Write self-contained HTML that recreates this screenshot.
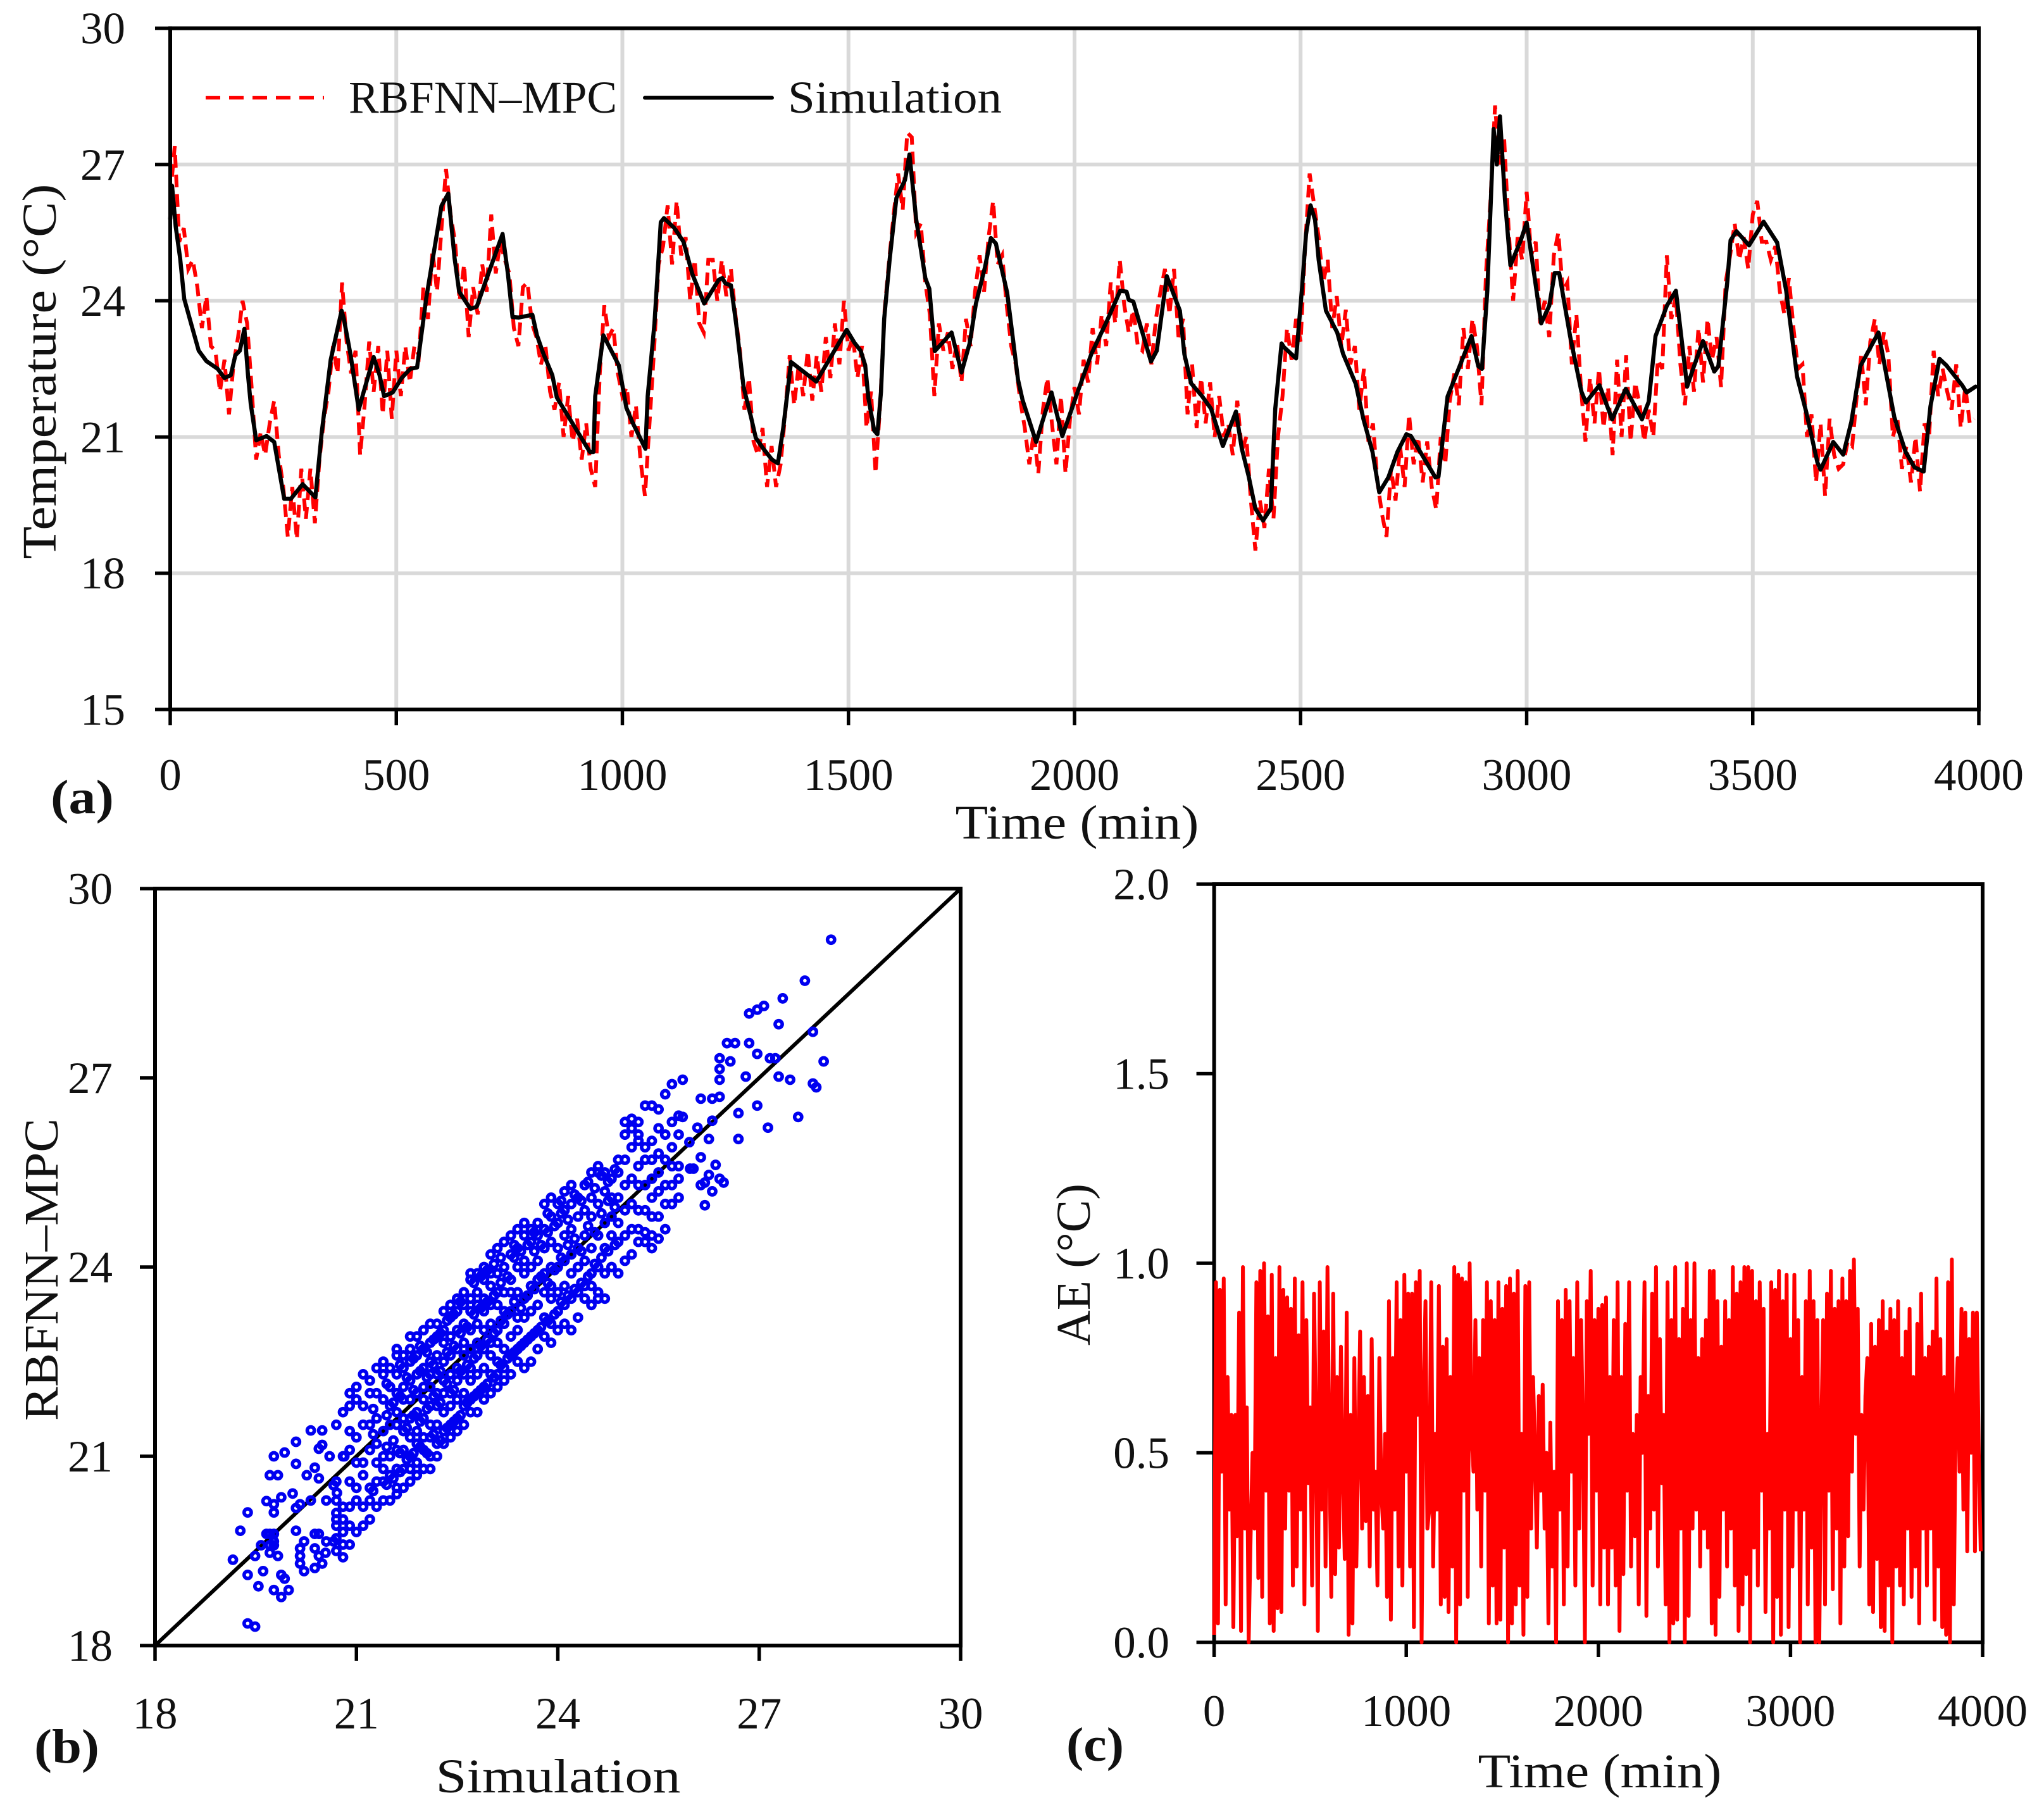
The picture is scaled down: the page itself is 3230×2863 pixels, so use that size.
<!DOCTYPE html>
<html lang="en">
<head>
<meta charset="utf-8">
<title>RBFNN-MPC temperature comparison</title>
<style>
html,body{margin:0;padding:0;background:#fff}
svg{display:block}
text{font-family:"Liberation Serif",serif;fill:#111}
</style>
</head>
<body>
<svg id="fig" xmlns="http://www.w3.org/2000/svg" width="3230" height="2863" viewBox="0 0 3230 2863">
<rect width="3230" height="2863" fill="#fff"/>
<g id="panelA"></g>
<g id="panelB"></g>
<g id="panelC"></g>
<text x="551" y="178" font-size="72" textLength="424" lengthAdjust="spacingAndGlyphs">RBFNN–MPC</text>
<text x="1245" y="178" font-size="72" textLength="338" lengthAdjust="spacingAndGlyphs">Simulation</text>
<line x1="325" y1="154.5" x2="512" y2="154.5" stroke="#f00" stroke-width="5.5" stroke-dasharray="23 14"/>
<line x1="1019" y1="154.5" x2="1220" y2="154.5" stroke="#000" stroke-width="6" stroke-linecap="round"/>
<text transform="translate(88,587) rotate(-90)" text-anchor="middle" font-size="76" textLength="593" lengthAdjust="spacingAndGlyphs">Temperature (°C)</text>
<text x="1702" y="1325" text-anchor="middle" font-size="76" textLength="385" lengthAdjust="spacingAndGlyphs">Time (min)</text>
<text x="80" y="1285" font-size="76" font-weight="bold" textLength="100" lengthAdjust="spacingAndGlyphs">(a)</text>
<text transform="translate(91,2006) rotate(-90)" text-anchor="middle" font-size="76" textLength="478" lengthAdjust="spacingAndGlyphs">RBFNN–MPC</text>
<text x="882" y="2832" text-anchor="middle" font-size="76" textLength="387" lengthAdjust="spacingAndGlyphs">Simulation</text>
<text x="54" y="2785" font-size="76" font-weight="bold" textLength="103" lengthAdjust="spacingAndGlyphs">(b)</text>
<text transform="translate(1722,1998) rotate(-90)" text-anchor="middle" font-size="76" textLength="256" lengthAdjust="spacingAndGlyphs">AE (°C)</text>
<text x="2528" y="2824" text-anchor="middle" font-size="76" textLength="385" lengthAdjust="spacingAndGlyphs">Time (min)</text>
<text x="1685" y="2782" font-size="76" font-weight="bold" textLength="91" lengthAdjust="spacingAndGlyphs">(c)</text>
</svg>
<script>
const tempTickValues=[15,18,21,24,27,30];
const timeTicksA=[0,500,1000,1500,2000,2500,3000,3500,4000];
const scatterTicks=[18,21,24,27,30];
const aeTicks=["0.0","0.5","1.0","1.5","2.0"];
const timeTicksC=[0,1000,2000,3000,4000];

const simTimes=[0,4,12,22,31,46,63,80,105,120,134,144,154,164,172,178,190,213,230,252,267,293,321,335,355,379,384,399,417,428,450,463,473,492,512,531,546,566,600,615,629,639,664,678,703,735,747,757,771,801,811,825,845,855,928,936,940,958,992,1009,1022,1051,1056,1071,1085,1092,1115,1135,1155,1181,1213,1221,1228,1240,1252,1268,1284,1295,1312,1331,1344,1356,1373,1429,1496,1513,1527,1537,1544,1557,1564,1572,1579,1591,1606,1625,1635,1650,1670,1679,1691,1728,1750,1768,1782,1802,1815,1826,1851,1861,1875,1885,1915,1934,1949,1973,2008,2037,2071,2101,2115,2120,2130,2169,2182,2204,2233,2243,2258,2282,2302,2328,2357,2370,2385,2400,2417,2434,2444,2458,2463,2490,2503,2512,2522,2532,2540,2556,2581,2594,2622,2639,2659,2674,2694,2714,2734,2744,2798,2805,2825,2847,2878,2893,2901,2913,2927,2934,2941,2952,2964,2987,3000,3017,3032,3050,3062,3072,3096,3121,3131,3161,3189,3219,3255,3270,3285,3310,3330,3355,3370,3390,3415,3424,3444,3451,3464,3492,3524,3554,3574,3598,3618,3643,3650,3678,3700,3718,3738,3778,3813,3838,3858,3878,3893,3913,3928,3963,3973,3993];
const simTemps=[25.8,26.53,25.64,24.93,24.04,23.5,22.9,22.67,22.5,22.3,22.36,22.8,22.9,23.38,22.36,21.73,20.93,21.02,20.89,19.64,19.64,19.96,19.67,21.1,22.7,23.78,23.6,22.8,21.6,22.0,22.76,22.36,21.9,21.98,22.3,22.5,22.53,24.04,26.09,26.36,24.93,24.2,23.82,23.87,24.58,25.47,24.58,23.64,23.63,23.69,23.24,22.84,22.36,21.87,20.67,20.67,21.9,23.24,22.58,21.64,21.33,20.74,21.9,23.5,25.73,25.82,25.6,25.3,24.58,23.94,24.46,24.5,24.38,24.34,23.46,22.1,21.46,20.98,20.74,20.5,20.42,21.22,22.65,22.22,23.36,23.08,22.9,22.58,21.86,21.14,21.06,22.0,23.6,24.9,26.26,26.66,27.22,25.78,24.5,24.26,22.89,23.3,22.42,23.06,23.94,24.74,25.38,25.26,24.18,23.38,22.26,21.82,20.89,21.5,21.98,21.02,22.02,22.82,23.54,24.22,24.2,24.02,23.98,22.66,22.9,24.54,23.78,22.82,22.18,21.9,21.62,20.8,21.56,20.74,20.14,19.42,19.16,19.42,21.62,23.06,22.98,22.73,24.26,25.46,26.1,25.78,24.9,23.78,23.3,22.83,22.17,21.39,20.67,19.78,20.11,20.67,21.06,21.02,20.11,20.13,21.89,22.44,23.22,22.56,22.5,24.22,27.78,27.0,28.06,26.22,24.78,25.33,25.72,24.56,23.5,23.89,24.61,24.61,23.22,22.0,21.76,22.14,21.39,22.06,21.39,21.78,23.22,23.89,24.22,22.11,22.56,23.11,22.44,22.56,24.44,25.33,25.53,25.22,25.74,25.28,24.22,22.33,21.56,20.44,20.28,20.89,20.61,21.33,22.56,23.3,21.44,20.67,20.33,20.24,21.67,22.72,22.58,22.14,21.98,22.11];

const rbfSampleStepMin=10;
const rbfTemps=[
26.3,27.4,25.3,25.6,24.7,24.9,24.3,23.4,24.1,23.0,
22.9,22.0,22.7,21.5,22.6,23.2,24.0,23.5,22.1,20.5,
21.1,20.6,21.3,21.8,20.6,19.9,18.8,19.9,18.75,20.3,
19.2,20.3,19.1,20.5,21.4,22.0,23.0,22.4,24.4,23.1,
22.4,22.9,20.6,21.7,23.1,22.0,23.0,21.5,22.9,21.4,
22.9,21.9,23.0,22.2,23.0,22.8,24.3,23.6,25.1,24.2,
25.6,26.9,25.9,25.3,24.0,24.8,23.2,24.3,23.7,24.8,
24.2,25.9,24.6,25.3,24.9,24.6,23.4,23.0,24.3,24.4,
23.5,23.2,22.6,23.0,22.0,21.6,22.2,21.0,21.9,20.9,
21.4,20.5,21.3,20.3,19.9,22.4,23.9,23.2,23.4,22.4,
21.9,22.1,21.0,21.7,20.5,19.7,21.3,22.9,24.8,25.2,
26.1,24.8,26.2,25.0,25.4,24.0,24.9,23.5,23.3,24.9,
24.9,24.0,24.9,24.1,24.7,23.7,22.9,21.6,22.3,20.9,
20.6,21.2,19.9,20.8,19.9,20.4,21.5,22.8,21.7,22.6,
21.9,22.9,21.8,22.8,22.0,23.2,22.3,23.5,22.6,24.0,
22.9,23.2,22.3,23.0,21.2,22.0,20.2,21.7,23.8,24.9,
25.9,26.8,26.0,27.7,27.6,25.5,25.7,24.4,23.7,21.9,
23.5,22.9,23.3,22.5,23.1,22.2,23.6,23.0,24.2,25.0,
24.2,25.4,26.2,24.8,25.0,23.9,23.0,22.6,21.8,21.2,
20.4,21.1,20.2,21.6,22.3,21.3,20.4,21.9,20.2,21.4,
22.1,21.5,22.7,22.2,23.4,22.6,23.7,23.0,24.4,23.5,
24.9,23.9,23.3,23.8,23.0,22.9,23.5,22.6,23.6,24.2,
24.7,23.7,24.7,23.2,23.6,21.5,22.6,21.2,22.3,21.3,
22.2,21.0,21.9,21.0,21.3,20.6,21.8,20.7,21.0,19.6,
18.5,19.6,19.0,20.3,19.2,21.0,21.9,23.4,22.7,23.6,
23.1,25.2,26.8,26.1,25.4,24.4,24.9,23.4,24.1,23.0,
23.8,22.6,23.0,21.6,22.5,20.9,21.3,20.0,19.3,18.8,
20.3,19.6,20.8,19.9,21.5,20.4,21.0,20.0,20.9,19.9,
19.4,21.0,20.4,21.8,22.4,21.7,23.4,22.5,23.6,23.0,
21.7,24.6,26.2,28.3,27.0,27.6,25.6,24.0,25.4,24.9,
26.4,25.0,25.3,23.5,24.0,23.2,25.0,25.5,24.2,24.4,
22.6,23.7,22.1,20.9,22.3,21.3,22.5,21.2,22.1,20.6,
22.7,21.0,22.8,20.9,22.2,21.7,20.9,21.6,21.0,22.7,
22.5,25.0,23.6,24.1,22.6,21.7,23.0,22.0,23.4,22.2,
23.6,22.7,23.2,22.1,24.4,25.0,25.7,24.9,25.4,24.7,
25.9,26.2,25.3,25.3,24.9,25.2,24.2,23.7,24.5,23.4,
22.5,22.6,21.0,21.5,20.0,21.3,19.7,21.4,20.6,20.3,
20.4,20.9,20.8,21.9,22.8,21.7,23.1,23.6,22.6,23.3,
22.8,21.0,21.4,20.3,20.8,20.0,21.0,19.8,21.3,21.0,
22.9,21.9,22.5,22.0,21.6,22.6,21.2,22.1,21.3,21.4];

const scatterSimColumns=[19.38,19.49,19.16,19.27,19.38,19.38,19.49,19.54,19.61,19.58,19.77,19.88,19.99,19.88,19.93,19.83,19.71,19.66,19.71,19.77,19.77,19.71,19.77,19.66,19.77,19.77,19.88,20.05,19.77,19.93,20.1,19.71,19.83,20.1,20.26,20.38,20.44,20.44,20.49,20.32,20.49,20.1,20.16,20.1,20.22,20.16,20.16,20.16,20.22,20.38,20.38,20.44,20.54,20.49,20.38,20.44,20.55,20.66,20.32,20.55,20.66,20.71,20.6,20.82,
20.7,20.8,20.9,21.0,21.1,21.2,21.3,21.4,21.5,21.6,21.7,21.8,21.9,22.0,22.1,22.2,22.3,22.4,22.5,22.6,22.7,22.8,22.9,23.0,23.1,23.2,23.3,23.4,23.5,23.6,23.7,23.8,23.9,24.0,24.1,24.2,24.3,24.4,24.5,24.6,24.7,24.8,24.9,25.0,25.1,25.2,25.3,25.4,25.5,25.6,25.7,25.8,
25.86,25.96,25.97,26.02,26.08,26.13,26.13,26.19,26.19,26.25,26.25,26.3,26.3,26.3,26.35,26.41,26.41,26.41,26.41,26.47,26.52,26.57,26.64,26.69,26.69,26.8,26.85,26.85,26.97,26.97,26.97,27.07,27.13,27.16,27.24,27.29,27.29,27.35,27.46,27.58,27.68,27.8,27.8,27.85,27.96,28.07,
21.25,21.45,21.55,21.65,21.75,21.85,21.95,22.05,22.15,22.25,22.35,22.45,22.55,22.65,22.75,22.85,22.95,23.05,23.15,23.25,23.35,23.45,23.55,23.65,23.75,23.85,23.95,24.05,24.15,24.25,24.35,24.45,24.55,24.65,24.75,24.85];
const scatterRbfByColumn=[[18.35],[18.30],[19.36],[19.82],[20.11],[19.12],[19.42],[18.94],[19.18],[19.59],[18.88],[18.77],[18.88],[19.12],[19.06],[19.42],[19.47],[19.77],[19.77],[19.77],[19.65],[19.59],[19.59],[20.29],[20.24],[20.11],[20.35],[20.41],[21.0],[21.06],[21.23],[20.7],[20.7],[20.88],[20.7],[20.82],[20.65],[21.12],[21.18],[21.41],[21.41],[20.18],[20.24],[19.82],[19.65],[19.54],[19.42],[19.3],[19.18],[19.23],[19.54],[19.42],[19.47],[19.3],[19.77],[19.77],[19.65],[19.65],[20.3],[20.3],[20.54],[20.42],[21.0],[21.0],
[19.5,19.7,19.9,20.0,20.1,20.3,20.6,21.5],
[19.4,19.6,19.8,20.0,20.2,21.0,21.7],
[19.6,19.9,20.2,20.6,21.1,21.4,21.8,22.0],
[19.8,20.3,20.5,20.9,21.3,21.9,22.1],
[19.9,20.2,20.7,20.9,21.5,21.8,22.3],
[20.0,20.3,20.5,21.1,21.5,22.0,22.2],
[20.2,20.6,20.9,21.2,21.6,22.0,22.4],
[20.3,20.6,20.8,21.0,21.4,21.9,22.3,22.5],
[20.3,20.7,21.0,21.5,21.8,22.1,22.4],
[20.4,20.5,20.8,21.1,21.5,21.7,22.0,22.3,22.6,22.7],
[20.5,20.8,21.1,21.4,21.6,21.9,22.1,22.4,22.6],
[20.6,20.8,21.0,21.3,21.6,21.9,22.2,22.5,22.7,22.9],
[20.7,20.9,21.2,21.4,21.7,22.0,22.3,22.6,22.9],
[20.8,21.1,21.3,21.6,21.9,22.1,22.4,22.7,23.0],
[20.8,21.0,21.3,21.5,21.8,22.1,22.3,22.5,22.8,23.1],
[21.0,21.2,21.5,21.8,22.0,22.3,22.6,22.9,23.1],
[21.2,21.4,21.7,22.0,22.2,22.5,22.8,23.0,23.3],
[21.3,21.5,21.8,22.0,22.3,22.6,22.9,23.2,23.4],
[21.4,21.6,21.9,22.2,22.4,22.7,23.0,23.3,23.5],
[21.5,21.8,22.0,22.3,22.6,22.8,23.1,23.4,23.6],
[21.7,21.9,22.2,22.4,22.7,23.0,23.3,23.5,23.8,23.9],
[21.7,22.0,22.3,22.6,22.8,23.1,23.4,23.6,23.9],
[21.9,22.1,22.4,22.7,23.0,23.3,23.5,23.8,24.0],
[22.0,22.3,22.6,22.8,23.1,23.4,23.7,23.9,24.2],
[22.1,22.3,22.5,22.8,23.0,23.4,23.6,23.9,24.3],
[22.2,22.4,22.7,23.1,23.3,23.6,24.0,24.4],
[22.3,22.6,22.9,23.3,23.6,23.8,24.2,24.5],
[22.5,22.7,23.0,23.2,23.6,24.0,24.3,24.6],
[22.4,22.8,23.2,23.5,23.9,24.1,24.5,24.7],
[22.5,22.9,23.3,23.7,24.0,24.4,24.6],
[22.7,23.0,23.4,23.8,24.1,24.5,24.7],
[22.9,23.2,23.6,23.9,24.3,24.6,25.0],
[22.8,23.1,23.5,23.7,24.0,24.4,24.8,25.1],
[23.0,23.3,23.6,24.0,24.3,24.7,25.0],
[23.1,23.4,23.7,24.1,24.5,24.9,25.2],
[23.0,23.5,23.9,24.2,24.6,25.0,25.3],
[23.2,23.6,24.0,24.3,24.8,25.1],
[23.5,23.7,24.1,24.5,24.9,25.3],
[23.4,23.7,23.9,24.3,24.8,25.1,25.5],
[23.5,23.6,24.0,24.5,25.0,25.5,25.6],
[23.5,23.9,24.3,24.7,25.2,25.5],
[24.0,24.5,24.8,25.1,25.4],
[23.9,24.4,24.7,25.1,25.5,25.7],
[24.1,24.5,24.9,25.3,25.7,26.1,26.3],
[24.2,24.6,25.0,25.4,25.9,26.2,26.35],
[24.4,24.6,24.9,25.3,25.6,26.0,26.1,26.3],
[24.4,24.55,24.9,25.3,25.7,25.9,26.56],
[24.3,24.5,24.8,25.1,25.4,25.7,26.0,26.56],
[24.45,24.8,25.2,25.5,25.8,26.2,26.5],
[24.6,25.0,25.3,25.7,26.1,26.74],
[25.0,25.3,25.6,25.9,26.3,26.9],
[25.1,25.4,25.6,26.4,26.1],
[26.97,26.38],[25.98],[25.56],[25.56],[26.21],[25.74,26.67],[25.3],[24.98],[25.34],[25.46],[26.03],[25.2],[26.32],[26.67],[25.62],[25.4,26.97],[27.14],[27.31],[26.7],[25.34],[27.55],[27.26],[27.55],[26.44],[26.03],[27.02],[28.02],[27.55],[28.08],[27.38],[26.56],[28.14],[26.21],[27.31],[27.31],[27.85],[27.02],[28.26],[26.97],[26.38],[28.54],[27.73],[26.91],[26.85],[27.26],[29.19],
[20.45,21.35,21.75],[20.55,21.15,21.65,22.15],[20.65,21.25,21.85],[20.75,21.05,21.95,22.45],[20.95,21.45,22.25],[21.05,21.65,22.05,22.55],[21.15,21.55,22.35,22.75],[21.05,21.75,22.25,22.65],[21.35,21.95,22.45,22.85],[21.25,21.85,22.35,22.95],[21.45,22.15,22.65,23.15],[21.55,22.05,22.75,23.25],[21.65,22.35,22.95,23.45],[21.85,22.45,23.05],[21.95,22.55,23.25,23.75],[22.05,22.75,23.35,23.85],[22.15,22.85,23.45,23.95],[22.25,22.95,23.55,24.05],[22.45,23.15,23.75,24.15],[22.55,23.25,23.85],[22.65,23.45,24.15,24.35],[22.75,23.35,24.25],[22.85,23.55,24.35],[22.95,23.65,24.25,24.55],[23.05,23.85,24.35],[23.15,23.75,24.55,24.85],[23.25,23.95,24.65],[23.45,24.15,24.85,25.05],[23.55,24.35,24.75],[23.65,24.45,25.15],[23.75,24.25,25.05],[23.85,24.65,25.35],[24.05,24.55,25.25],[24.15,24.85,25.45],[24.25,25.05,25.35],[24.35,24.95,25.55]];

const aeSampleStepMin=10;
const aeValues=[
0.02,0.95,0.05,0.93,0.45,0.96,0.1,0.7,0.35,0.6,
0.04,0.6,0.28,0.87,0.03,0.99,0.3,0.62,0.0,0.28,
0.5,0.3,0.95,0.17,0.98,0.12,1.0,0.4,0.86,0.05,
0.97,0.03,0.75,0.09,0.99,0.08,0.93,0.3,0.91,0.4,
0.88,0.15,0.96,0.2,0.81,0.35,0.95,0.1,0.85,0.42,
0.62,0.15,0.92,0.55,0.03,0.95,0.35,0.82,0.2,0.99,
0.5,0.12,0.92,0.18,0.7,0.25,0.78,0.45,0.22,0.87,
0.02,0.6,0.05,0.75,0.2,0.5,0.82,0.3,0.7,0.32,
0.65,0.2,0.8,0.35,0.45,0.15,0.75,0.4,0.3,0.55,
0.12,0.9,0.06,0.75,0.35,0.95,0.2,0.85,0.15,0.97,
0.45,0.92,0.2,0.92,0.04,0.95,0.6,0.98,0.0,0.65,
0.9,0.3,0.35,0.95,0.2,0.55,0.35,0.94,0.1,0.78,
0.12,0.8,0.08,0.7,0.2,0.99,0.0,0.97,0.1,0.96,
0.4,0.95,0.12,1.0,0.55,0.45,0.85,0.35,0.75,0.2,
0.85,0.4,0.95,0.05,0.9,0.15,0.85,0.05,0.95,0.06,
0.88,0.25,0.94,0.0,0.96,0.05,0.92,0.1,0.98,0.15,
0.55,0.02,0.94,0.12,0.95,0.3,0.7,0.5,0.25,0.65,
0.4,0.68,0.3,0.5,0.05,0.58,0.2,0.45,0.0,0.9,
0.35,0.85,0.1,0.93,0.2,0.9,0.45,0.75,0.15,0.95,
0.3,0.85,0.55,0.0,0.9,0.55,0.98,0.15,0.85,0.4,
0.88,0.1,0.89,0.25,0.91,0.1,0.7,0.25,0.85,0.15,
0.95,0.03,0.7,0.18,0.84,0.4,0.95,0.2,0.55,0.28,
0.6,0.1,0.7,0.5,0.95,0.07,0.65,0.3,0.92,0.35,
0.99,0.2,0.8,0.42,0.6,0.1,0.95,0.0,0.85,0.05,
0.99,0.06,0.8,0.3,0.88,0.0,1.0,0.07,0.85,0.3,
1.0,0.35,0.75,0.2,0.8,0.3,0.85,0.25,0.98,0.05,
0.98,0.02,0.9,0.12,0.78,0.35,0.9,0.2,0.85,0.3,
0.99,0.15,0.92,0.03,0.95,0.1,0.99,0.18,0.99,0.0,
0.98,0.25,0.9,0.15,0.95,0.4,0.88,0.08,0.55,0.3,
0.95,0.0,0.93,0.12,0.98,0.02,0.9,0.35,0.97,0.04,
0.8,0.2,0.97,0.35,0.85,0.0,0.7,0.35,0.9,0.1,
0.98,0.25,0.9,0.0,0.85,0.0,0.55,0.85,0.1,0.92,
0.4,0.98,0.14,0.88,0.3,0.9,0.05,0.96,0.2,0.9,
0.28,0.98,0.45,1.01,0.55,0.88,0.2,0.6,0.35,0.65,
0.75,0.1,0.84,0.08,0.78,0.22,0.85,0.04,0.9,0.03,
0.82,0.15,0.88,0.0,0.85,0.2,0.9,0.15,0.75,0.1,
0.82,0.3,0.88,0.12,0.7,0.2,0.84,0.05,0.92,0.3,
0.75,0.15,0.78,0.3,0.82,0.06,0.96,0.2,0.8,0.04,
0.7,0.02,0.95,0.0,1.01,0.1,0.6,0.75,0.45,0.88,
0.35,0.87,0.24,0.8,0.5,0.87,0.24,0.87,0.5,0.24];

const NS='http://www.w3.org/2000/svg';
function mk(tag,attrs,parent){
  const el=document.createElementNS(NS,tag);
  for(const k in attrs){el.setAttribute(k,attrs[k]);}
  parent.appendChild(el);
  return el;
}
function pathOf(xs,ys){
  let d='';
  for(let i=0;i<xs.length;i++){d+=(i?'L':'M')+xs[i].toFixed(1)+' '+ys[i].toFixed(1);}
  return d;
}

/* Panel A */
const gA=document.getElementById('panelA');
const xA=t=>269+t*(3127-269)/4000;
const yA=v=>1121-(v-15)*(1121-44.6)/15;
for(const t of timeTicksA){
  if(t>0&&t<4000){
    const g=mk('line',{x1:xA(t),x2:xA(t),y1:yA(30),y2:yA(15),stroke:'#d9d9d9','stroke-width':6},gA);
    
    
  }
}
for(const v of tempTickValues){
  if(v>15&&v<30){
    const g=mk('line',{x1:xA(0),x2:xA(4000),y1:yA(v),y2:yA(v),stroke:'#d9d9d9','stroke-width':6},gA);
    
    
  }
}
const redLine=mk('path',{d:pathOf(rbfTemps.map((v,i)=>xA(i*rbfSampleStepMin)),rbfTemps.map(yA)),fill:'none',stroke:'#f00','stroke-width':6,'stroke-dasharray':'20 11'},gA);


const blackLine=mk('path',{d:pathOf(simTimes.map(xA),simTemps.map(yA)),fill:'none',stroke:'#000','stroke-width':6.5,'stroke-linejoin':'round','stroke-linecap':'round'},gA);


function axesBox(g,x0,x1,y0,y1,w,name){
  const sides=[[x0,y0,x1,y0],[x0,y1,x1,y1],[x0,y0,x0,y1],[x1,y0,x1,y1]];
  for(const s of sides){
    const a=mk('line',{x1:s[0],y1:s[1],x2:s[2],y2:s[3],stroke:'#000','stroke-width':w,'stroke-linecap':'square'},g);
    
    
  }
}
function tickY(g,x,len,y,w,label,labelX,name){
  const t=mk('line',{x1:x-len,x2:x,y1:y,y2:y,stroke:'#000','stroke-width':w},g);
  
  
  const l=mk('text',{x:labelX,y:y+24,'text-anchor':'end','font-size':71},g);
  l.textContent=label;
  
  
}
function tickX(g,y,len,x,w,label,labelY,name){
  const t=mk('line',{x1:x,x2:x,y1:y,y2:y+len,stroke:'#000','stroke-width':w},g);
  
  
  const l=mk('text',{x:x,y:labelY,'text-anchor':'middle','font-size':71},g);
  l.textContent=label;
  
  
}
axesBox(gA,xA(0),xA(4000),yA(30),yA(15),6,'panel-a');
for(const v of tempTickValues){tickY(gA,xA(0),24,yA(v),5.5,String(v),198,'panel-a');}
for(const t of timeTicksA){tickX(gA,yA(15),25,xA(t),5.5,String(t),1248,'panel-a');}

/* Panel B */
const gB=document.getElementById('panelB');
const xB=v=>245+(v-18)*(1518-245)/12;
const yB=v=>2600-(v-18)*(2600-1404)/12;
const diag=mk('line',{x1:xB(18),y1:yB(18),x2:xB(30),y2:yB(30),stroke:'#000','stroke-width':6},gB);


scatterSimColumns.forEach((sx,i)=>{
  for(const ry of scatterRbfByColumn[i]){
    const c=mk('circle',{cx:xB(sx),cy:yB(ry),r:5.6,fill:'none',stroke:'#0000f0','stroke-width':5.6},gB);
    
    
  }
});
axesBox(gB,xB(18),xB(30),yB(30),yB(18),6,'panel-b');
for(const v of scatterTicks){tickY(gB,xB(18),24,yB(v),5.5,String(v),178,'panel-b');}
for(const v of scatterTicks){tickX(gB,yB(18),24,xB(v),5.5,String(v),2731,'panel-b');}

/* Panel C */
const gC=document.getElementById('panelC');
const xC=t=>1918.6+t*(3133-1918.6)/4000;
const yC=v=>2595-v*(2595-1397)/2;
axesBox(gC,xC(0),xC(4000),yC(2),yC(0),6,'panel-c');
for(const s of aeTicks){tickY(gC,xC(0),28,yC(parseFloat(s)),5.5,s,1848,'panel-c');}
for(const t of timeTicksC){tickX(gC,yC(0),23,xC(t),5.5,String(t),2727,'panel-c');}
const aeLine=mk('path',{d:pathOf(aeValues.map((v,i)=>xC(i*aeSampleStepMin)),aeValues.map(yC)),fill:'none',stroke:'#f00','stroke-width':6,'stroke-linejoin':'round'},gC);


</script>
</body>
</html>
